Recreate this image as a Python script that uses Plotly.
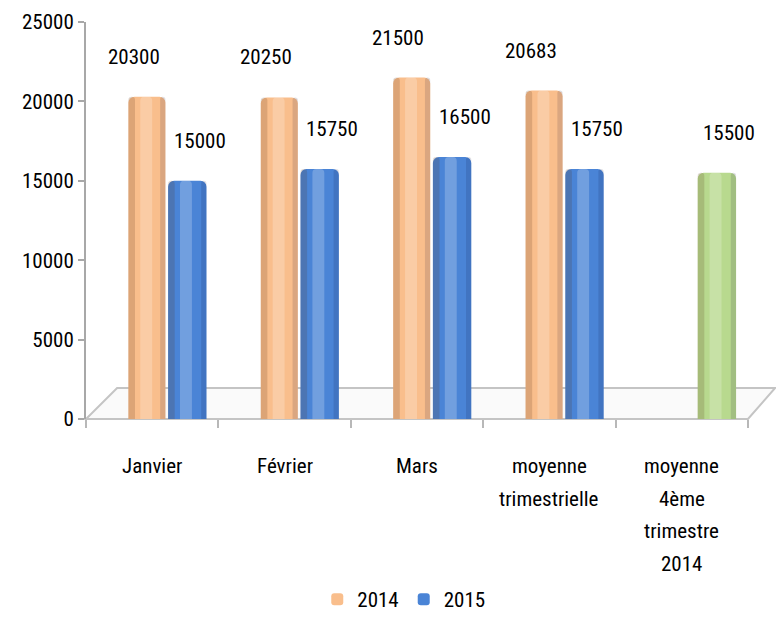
import plotly.graph_objects as go

categories = ["Janvier", "Février", "Mars", "moyenne\ntrimestrielle", "moyenne\n4ème\ntrimestre\n2014"]
values_2014 = [20300, 20250, 21500, 20683, None]
values_2015 = [15000, 15750, 16500, 15750, 15500]
colors_2015 = ["#4A84D6", "#4A84D6", "#4A84D6", "#4A84D6", "#B8D98E"]
color_2014 = "#F9BE8C"
y_ticks = [0, 5000, 10000, 15000, 20000, 25000]

FONT = "Liberation Sans Narrow, Arial Narrow, Roboto Condensed, sans-serif"
FS = 21
xs = list(range(len(categories)))

fig = go.Figure()

def add_series(vals, color, name, off, w, legend):
    fig.add_trace(go.Bar(x=xs, y=vals, name=name, offset=off, width=w,
                         marker=dict(color=color, line=dict(width=0), cornerradius=6),
                         showlegend=legend, hoverinfo="skip"))
    # shading overlays for a cylinder look
    fig.add_trace(go.Bar(x=xs, y=vals, offset=off, width=0.05,
                         marker=dict(color="rgba(90,50,20,0.18)", line=dict(width=0), cornerradius=4),
                         showlegend=False, hoverinfo="skip"))
    fig.add_trace(go.Bar(x=xs, y=vals, offset=off + 0.09, width=0.09,
                         marker=dict(color="rgba(255,255,255,0.22)", line=dict(width=0), cornerradius=4),
                         showlegend=False, hoverinfo="skip"))
    fig.add_trace(go.Bar(x=xs, y=vals, offset=off + w - 0.04, width=0.04,
                         marker=dict(color="rgba(0,0,40,0.12)", line=dict(width=0), cornerradius=4),
                         showlegend=False, hoverinfo="skip"))

add_series(values_2014, color_2014, "2014", -0.18, 0.28, True)
add_series(values_2015, colors_2015, "2015", 0.12, 0.29, True)

annotations = []
for i, v in enumerate(values_2014):
    if v is not None:
        annotations.append(dict(x=i - 0.14, y=v, text=str(v), showarrow=False,
                                yshift=40, font=dict(size=FS, color="#000", family=FONT)))
for i, v in enumerate(values_2015):
    if v is not None:
        annotations.append(dict(x=i + 0.36, y=v, text=str(v), showarrow=False,
                                yshift=40, font=dict(size=FS, color="#000", family=FONT)))
for i, c in enumerate(categories):
    for j, line in enumerate(c.split("\n")):
        annotations.append(dict(x=i, y=0, yref="y", text=line, showarrow=False,
                                yanchor="middle", yshift=-47 - 32.5 * j,
                                font=dict(size=FS, color="#000", family=FONT)))

# 3D-like floor
shapes = [dict(type="path", xref="paper", yref="paper", layer="below",
               path="M 0 0 L 1 0 L 1.041 0.078 L 0.047 0.078 Z",
               fillcolor="#FAFAFA", line=dict(color="#C4C4C4", width=2))]

fig.update_layout(
    width=776, height=632,
    margin=dict(l=86, r=28, t=22, b=213, autoexpand=False),
    paper_bgcolor="white", plot_bgcolor="rgba(0,0,0,0)",
    barmode="overlay",
    font=dict(family=FONT, size=FS, color="#000"),
    showlegend=True,
    legend=dict(orientation="h", x=0.48, xanchor="center", y=-0.455, yanchor="middle",
                font=dict(size=FS, family=FONT), traceorder="normal", itemwidth=30),
    annotations=annotations,
    shapes=shapes,
    xaxis=dict(range=[-0.5, 4.5], tickvals=[-0.5, 0.5, 1.5, 2.5, 3.5, 4.5],
               showticklabels=False, ticks="outside", ticklen=8, tickcolor="#B8B8B8",
               tickwidth=2, showgrid=False, zeroline=False, showline=False,
               fixedrange=True, automargin=False),
    yaxis=dict(range=[0, 25000], tickvals=y_ticks, tickformat="d", ticks="outside",
               ticklen=6, tickcolor="#A8A8A8", tickwidth=2, showline=True,
               linecolor="#A8A8A8", linewidth=2, showgrid=False, zeroline=False,
               automargin=False, tickfont=dict(size=FS, family=FONT)),
)

fig.write_html("out.html", config={"displayModeBar": False},
               post_script="document.body.style.margin='0';document.body.style.overflow='hidden';")
